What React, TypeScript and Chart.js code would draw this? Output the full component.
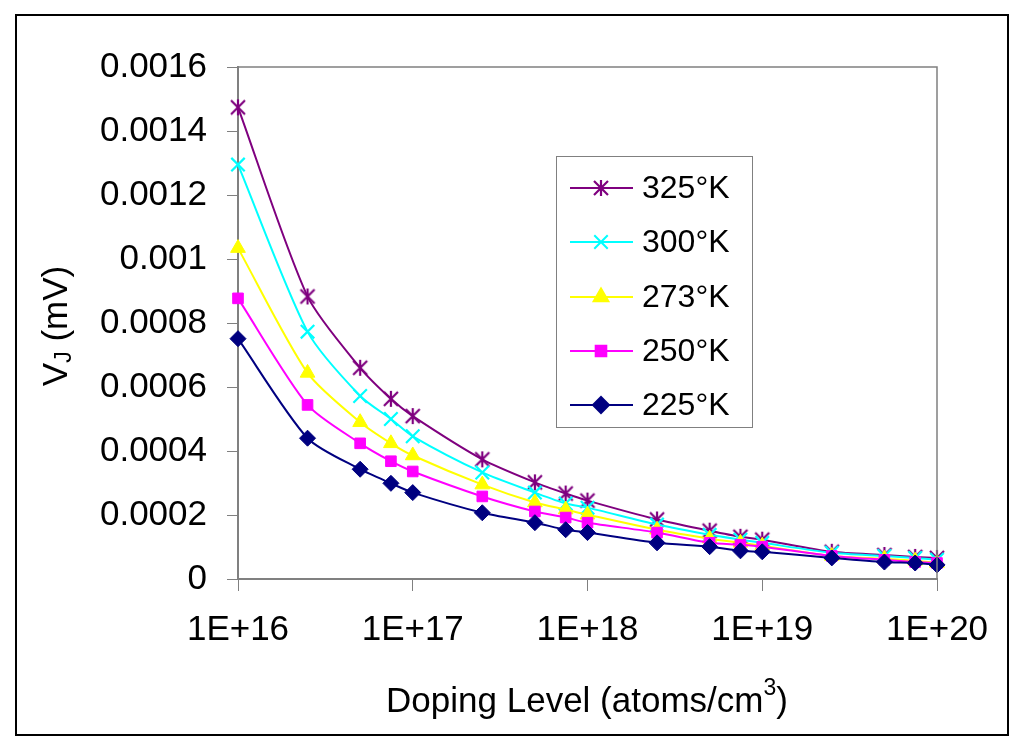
import { useEffect, useRef } from "react";
import { Chart, registerables } from "chart.js";
import { drawPoint } from "chart.js/helpers";

Chart.register(...registerables);

// doping levels (atoms/cm3)
const doping = [
  1e16, 2.5e16, 5e16, 7.5e16, 1e17, 2.5e17, 5e17, 7.5e17, 1e18, 2.5e18, 5e18,
  7.5e18, 1e19, 2.5e19, 5e19, 7.5e19, 1e20,
];

const v325 = [
  0.001474, 0.000883, 0.00066, 0.000563, 0.000509, 0.000374, 0.000302,
  0.000267, 0.000245, 0.000186, 0.000151, 0.000132, 0.000123, 0.000085,
  0.000075, 0.000069, 0.000066,
];
const v300 = [
  0.001295, 0.000773, 0.000572, 0.0005, 0.000446, 0.000333, 0.00027,
  0.000236, 0.000223, 0.00017, 0.000138, 0.000123, 0.000113, 0.000082,
  0.000072, 0.000066, 0.00006,
];
const v273 = [
  0.001034, 0.000644, 0.00049, 0.000424, 0.000386, 0.000295, 0.000239,
  0.000217, 0.000201, 0.000154, 0.000126, 0.000113, 0.000104, 0.000072,
  0.000063, 0.000057, 0.00005,
];
const v250 = [
  0.000877, 0.000544, 0.000424, 0.000368, 0.000336, 0.000258, 0.000211,
  0.000192, 0.000176, 0.000145, 0.000113, 0.000107, 0.000101, 0.000072,
  0.00006, 0.000053, 0.00005,
];
const v225 = [
  0.000751, 0.00044, 0.000343, 0.000299, 0.00027, 0.000207, 0.000176,
  0.000154, 0.000145, 0.000113, 0.000101, 0.000088, 0.000085, 0.000066,
  0.000053, 0.00005, 0.000044,
];

const seriesNames = ["325°K", "300°K", "273°K", "250°K", "225°K"];
const seriesValues = [v325, v300, v273, v250, v225];
const seriesColors = ["#7f007f", "#00ffff", "#ffff00", "#ff00ff", "#000080"];

const xTickValues = [1e16, 1e17, 1e18, 1e19, 1e20];
const xTickLabels = ["1E+16", "1E+17", "1E+18", "1E+19", "1E+20"];
const yTickValues = [0, 0.0002, 0.0004, 0.0006, 0.0008, 0.001, 0.0012, 0.0014, 0.0016];
const yTickLabels = ["0", "0.0002", "0.0004", "0.0006", "0.0008", "0.001", "0.0012", "0.0014", "0.0016"];

const FONT = '"Liberation Sans", Arial, sans-serif';

// excel style asterisk: X plus a vertical bar
function makeStar(color: string) {
  const c = document.createElement("canvas");
  c.width = 18;
  c.height = 18;
  const g = c.getContext("2d")!;
  g.strokeStyle = color;
  g.lineWidth = 2.2;
  g.beginPath();
  g.moveTo(9, 1);
  g.lineTo(9, 17);
  g.moveTo(2, 2);
  g.lineTo(16, 16);
  g.moveTo(16, 2);
  g.lineTo(2, 16);
  g.stroke();
  return c;
}

export default function App() {
  const canvasRef = useRef<HTMLCanvasElement | null>(null);

  useEffect(() => {
    if (!canvasRef.current) return;

    const styles: any[] = [makeStar(seriesColors[0]), "crossRot", "triangle", "rect", "rectRot"];
    const radii = [8, 9.5, 8.5, 7.5, 8];

    const decor = {
      id: "decor",
      afterDraw(chart: Chart) {
        const ctx = chart.ctx;
        const a = chart.chartArea;
        ctx.save();

        // top / right edges of the plot
        ctx.strokeStyle = "#808080";
        ctx.lineWidth = 1.5;
        ctx.beginPath();
        ctx.moveTo(a.left, a.top);
        ctx.lineTo(a.right, a.top);
        ctx.lineTo(a.right, a.bottom);
        ctx.stroke();

        // outer frame
        ctx.strokeStyle = "#000";
        ctx.lineWidth = 2;
        ctx.strokeRect(16, 15, 992, 720);

        // legend
        ctx.fillStyle = "#fff";
        ctx.fillRect(556, 156, 196, 271);
        ctx.strokeStyle = "#808080";
        ctx.lineWidth = 1;
        ctx.strokeRect(556.5, 156.5, 196, 271);
        const rows = [188, 242, 297, 351, 405];
        seriesNames.forEach((name, i) => {
          const y = rows[i];
          ctx.strokeStyle = seriesColors[i];
          ctx.fillStyle = seriesColors[i];
          ctx.lineWidth = 2;
          ctx.beginPath();
          ctx.moveTo(570, y);
          ctx.lineTo(633, y);
          ctx.stroke();
          drawPoint(
            ctx,
            { pointStyle: styles[i], radius: radii[i], borderWidth: i === 1 ? 2.2 : 1, rotation: 0 } as any,
            601,
            y
          );
          ctx.fillStyle = "#000";
          ctx.font = `32px ${FONT}`;
          ctx.textAlign = "left";
          ctx.textBaseline = "middle";
          ctx.fillText(name, 642, y + 1);
        });

        // x title with superscript
        ctx.fillStyle = "#000";
        ctx.textBaseline = "alphabetic";
        ctx.textAlign = "left";
        const big = `35px ${FONT}`;
        const small = `23px ${FONT}`;
        const p1 = "Doping Level (atoms/cm";
        ctx.font = big;
        const w1 = ctx.measureText(p1).width;
        const w3 = ctx.measureText(")").width;
        ctx.font = small;
        const w2 = ctx.measureText("3").width;
        let x = 587 - (w1 + w2 + w3) / 2;
        ctx.font = big;
        ctx.fillText(p1, x, 712);
        x += w1;
        ctx.font = small;
        ctx.fillText("3", x, 695);
        x += w2;
        ctx.font = big;
        ctx.fillText(")", x, 712);

        // y title with subscript
        ctx.translate(67, 326);
        ctx.rotate(-Math.PI / 2);
        ctx.font = big;
        const wv = ctx.measureText("V").width;
        const wr = ctx.measureText(" (mV)").width;
        ctx.font = small;
        const wj = ctx.measureText("J").width;
        let t = -(wv + wj + wr) / 2;
        ctx.font = big;
        ctx.fillText("V", t, 0);
        t += wv;
        ctx.font = small;
        ctx.fillText("J", t, 4);
        t += wj;
        ctx.font = big;
        ctx.fillText(" (mV)", t, 0);

        ctx.restore();
      },
    };

    const chart = new Chart(canvasRef.current, {
      type: "line",
      data: {
        datasets: seriesNames.map((name, i) => ({
          label: name,
          data: doping.map((d, j) => ({ x: d, y: seriesValues[i][j] })),
          borderColor: seriesColors[i],
          backgroundColor: seriesColors[i],
          pointBackgroundColor: seriesColors[i],
          pointBorderColor: seriesColors[i],
          pointStyle: styles[i],
          pointRadius: radii[i],
          pointBorderWidth: i === 1 ? 2.2 : 1,
          borderWidth: 2,
          tension: 0.25,
          order: 5 - i,
          clip: false as any,
        })),
      },
      options: {
        animation: false,
        responsive: false,
        layout: { padding: { left: 0, top: 67, right: 87, bottom: 0 } },
        plugins: {
          legend: { display: false },
          tooltip: { enabled: false },
        },
        scales: {
          x: {
            type: "logarithmic",
            min: 1e16,
            max: 1e20,
            afterBuildTicks: (s: any) => {
              s.ticks = xTickValues.map((v) => ({ value: v }));
            },
            afterFit: (s: any) => {
              s.height = 173;
            },
            ticks: {
              callback: (_v: any, i: number) => xTickLabels[i],
              font: { family: FONT, size: 35 },
              color: "#000",
              padding: 18,
              maxRotation: 0,
              autoSkip: false,
            },
            grid: { drawOnChartArea: false, tickLength: 12, color: "#808080" },
            border: { color: "#808080", width: 2 },
          },
          y: {
            type: "linear",
            min: 0,
            max: 0.0016,
            afterBuildTicks: (s: any) => {
              s.ticks = yTickValues.map((v) => ({ value: v }));
            },
            afterFit: (s: any) => {
              s.width = 238;
            },
            ticks: {
              callback: (_v: any, i: number) => yTickLabels[i],
              font: { family: FONT, size: 35 },
              color: "#000",
              padding: 20,
              autoSkip: false,
            },
            grid: { drawOnChartArea: false, tickLength: 11, color: "#808080" },
            border: { color: "#808080", width: 2 },
          },
        },
      },
      plugins: [decor],
    });

    return () => {
      chart.destroy();
    };
  }, []);

  return (
    <div style={{ position: "absolute", left: 0, top: 0, width: 1024, height: 752, background: "#fff" }}>
      <canvas ref={canvasRef} width={1024} height={752} style={{ display: "block" }} />
    </div>
  );
}
